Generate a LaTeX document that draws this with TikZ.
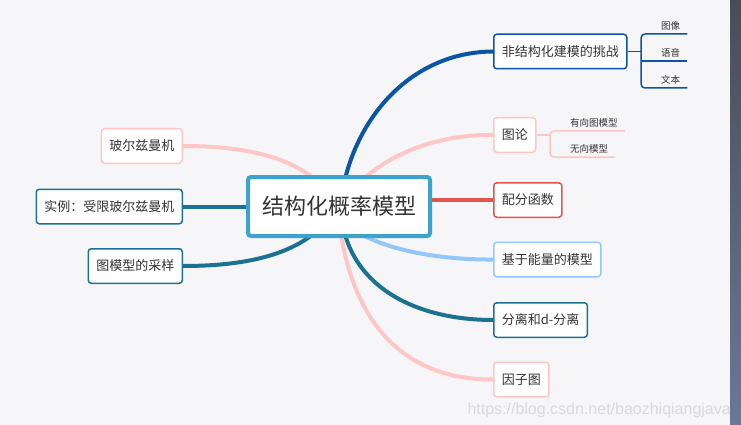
\documentclass[tikz,border=0pt]{standalone}
\usepackage{fontspec}
\newfontfamily\cjk{Noto Sans CJK SC}
\newfontfamily\wmfont{Liberation Sans}
\usetikzlibrary{positioning,backgrounds}
\definecolor{bgc}{HTML}{F6F5F8}
\definecolor{txt}{HTML}{333333}
\definecolor{ctrc}{HTML}{3BA3CC}
\definecolor{dkblue}{HTML}{0B55A5}
\definecolor{pinkc}{HTML}{FFC6C6}
\definecolor{redc}{HTML}{E0554D}
\definecolor{ltblue}{HTML}{92C8F8}
\definecolor{tealc}{HTML}{1B7191}
\definecolor{wmc}{HTML}{DAD9DF}
\definecolor{stripa}{HTML}{4A4D57}
\definecolor{stripb}{HTML}{6A7898}
\tikzset{
  ctr/.style   ={draw=ctrc,line width=4pt,rounded corners=3pt,fill=white,text=txt,
                 font=\cjk\fontsize{22}{26}\selectfont,minimum width=182pt,minimum height=59pt},
  topic/.style ={draw,line width=1.5pt,rounded corners=3pt,fill=white,text=txt,
                 font=\cjk\fontsize{13}{15}\selectfont,inner xsep=8pt,minimum height=34.5pt},
  leaf/.style  ={text=txt,font=\cjk\fontsize{9.5}{11}\selectfont,
                 inner xsep=7pt,inner ysep=3.5pt,anchor=south west},
  br/.style    ={line width=4pt},
  twig/.style  ={line width=1.5pt},
}

\begin{document}
\begin{tikzpicture}[x=1pt,y=-1pt]
\useasboundingbox (0,0) rectangle (741,425);
\begin{scope}[on background layer]
\fill[bgc] (0,0) rectangle (741,425);
\end{scope}

\node[ctr] (C) at (339,206.5) {结构化概率模型};

\node[topic,draw=dkblue,anchor=west] (N1) at (493,51.5) {非结构化建模的挑战};
\node[topic,draw=pinkc,anchor=west] (N2) at (493,135) {图论};
\node[topic,draw=redc,anchor=west] (N3) at (493,200) {配分函数};
\node[topic,draw=ltblue,anchor=west] (N4) at (493,259.5) {基于能量的模型};
\node[topic,draw=tealc,anchor=west] (N5) at (493,320) {分离和d-分离};
\node[topic,draw=pinkc,anchor=west] (N6) at (493,379.5) {因子图};

\node[topic,draw=pinkc,anchor=east] (L1) at (183,146) {玻尔兹曼机};
\node[topic,draw=tealc,left=63pt of C] (L2) {实例：受限玻尔兹曼机};
\node[topic,draw=tealc,anchor=east] (L3) at (183,266) {图模型的采样};

\node[leaf] (T1) at (654,34) {图像};
\node[leaf] (T2) at (654,61) {语音};
\node[leaf] (T3) at (654,88) {文本};
\coordinate (J1) at (641,51.5);

\node[leaf] (U1) at (563,131) {有向图模型};
\node[leaf] (U2) at (563,157) {无向模型};
\coordinate (J2) at (550,135);

\begin{scope}[on background layer]
\draw[br,dkblue] ([shift={(2,-6.5)}]C.center) .. controls (352,120) and (410,52) .. (N1.west);
\draw[br,pinkc] (C.center) .. controls (370,160) and (430,134) .. (N2.west);
\draw[br,redc] (N3.west -| C.center) -- (N3.west);
\draw[br,ltblue] ([shift={(16,24)}]C.center) .. controls (385,250) and (440,260) .. (N4.west);
\draw[br,tealc] ([shift={(2,8.5)}]C.center) .. controls (350,290) and (420,320) .. (N5.west);
\draw[br,pinkc] ([shift={(0,13.5)}]C.center) .. controls (352,330) and (410,380) .. (N6.west);
\draw[br,pinkc] ([shift={(-9,-11.5)}]C.center) .. controls (300,155) and (240,146) .. (L1.east);
\draw[br,tealc] (L2.east -| C.center) -- (L2.east);
\draw[br,tealc] ([shift={(-9,10.5)}]C.center) .. controls (300,257) and (240,266) .. (L3.east);
\end{scope}

\draw[twig,dkblue] (N1.east) -- (J1);
\draw[twig,dkblue,rounded corners=4pt] (T1.south east) -- (T1.south west -| J1) -- (T3.south west -| J1) -- (T3.south east);
\draw[twig,dkblue] (T2.south west -| J1) -- (T2.south east);

\draw[twig,pinkc] (N2.east) -- (J2);
\draw[twig,pinkc,rounded corners=4pt] (U1.south east) -- (U1.south west -| J2) -- (U2.south west -| J2) -- (U2.south east);

\node[font=\wmfont\fontsize{16}{18}\selectfont,text=wmc,anchor=base east,inner sep=0pt] (WM) at (731,414) {https://blog.csdn.net/baozhiqiangjava};
\shade[top color=stripa,bottom color=stripb] (730,0) rectangle (741,425);
\end{tikzpicture}
\end{document}
